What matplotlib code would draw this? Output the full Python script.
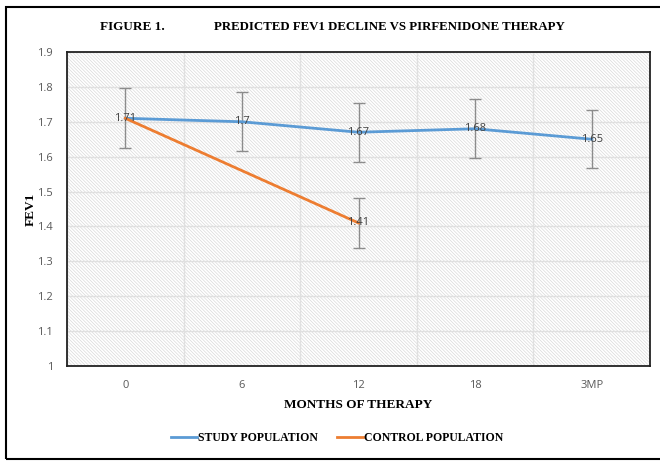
import numpy as np
import matplotlib
matplotlib.use("Agg")
import matplotlib.pyplot as plt
from matplotlib.patches import Rectangle

# chart data
months = ["0", "6", "12", "18", "3MP"]
study_fev1 = [1.71, 1.70, 1.67, 1.68, 1.65]
study_err = [0.086, 0.085, 0.084, 0.084, 0.083]
control_fev1 = [1.71, None, 1.41]
control_err = [0.0, 0.0, 0.071]
y_ticks = [1, 1.1, 1.2, 1.3, 1.4, 1.5, 1.6, 1.7, 1.8, 1.9]

plt.rcParams["hatch.linewidth"] = 0.5
plt.rcParams["hatch.color"] = "#d9d9d9"

serif = ["Liberation Serif", "DejaVu Serif"]
narrow = ["Liberation Sans Narrow", "Open Sans", "DejaVu Sans"]

fig = plt.figure(figsize=(6.6, 4.62), dpi=100)
ax = fig.add_axes([67 / 660, 1 - 366 / 462, 583 / 660, 314 / 462])

# outer frame around the whole figure
fig.patches.append(Rectangle((6 / 660, 1 - 459 / 462), 660, 452 / 462,
                             transform=fig.transFigure, fill=False,
                             edgecolor="black", linewidth=1.5))

# hatched plot background
ax.add_patch(Rectangle((0, 0), 1, 1, transform=ax.transAxes, facecolor="white",
                       hatch="\\" * 10, edgecolor="#d9d9d9", linewidth=0, zorder=0))

x = np.arange(len(months))
blue = "#5b9bd5"
orange = "#ed7d31"

ax.plot(x, study_fev1, color=blue, linewidth=2, zorder=3, label="STUDY POPULATION")
ax.errorbar(x, study_fev1, yerr=study_err, fmt="none", ecolor="#8c8c8c",
            elinewidth=1, capsize=4, capthick=1, zorder=2)

cx = [i for i, v in enumerate(control_fev1) if v is not None]
cy = [v for v in control_fev1 if v is not None]
ce = [control_err[i] for i in cx]
ax.plot(cx, cy, color=orange, linewidth=2, zorder=3, label="CONTROL POPULATION")
ax.errorbar(cx[-1:], cy[-1:], yerr=ce[-1:], fmt="none", ecolor="#8c8c8c",
            elinewidth=1, capsize=4, capthick=1, zorder=2)

# data labels
for xi, v in zip(x, study_fev1):
    ax.text(xi, v, f"{v:g}", ha="center", va="center", fontsize=8,
            color="#404040", family=narrow, zorder=4)
ax.text(cx[-1], cy[-1], f"{cy[-1]:g}", ha="center", va="center", fontsize=8,
        color="#404040", family=narrow, zorder=4)

ax.set_xlim(-0.5, len(months) - 0.5)
ax.set_ylim(1, 1.9)
ax.set_yticks(y_ticks)
ax.set_yticklabels([f"{t:g}" for t in y_ticks], family=narrow, fontsize=8, color="#595959")
ax.set_xticks(x)
ax.set_xticklabels(months, family=narrow, fontsize=8, color="#595959")
ax.set_xticks(np.arange(-0.5, len(months), 1), minor=True)
ax.tick_params(which="both", length=0, pad=10)
ax.tick_params(axis="y", pad=10)

ax.grid(axis="y", which="major", color="#e0e0e0", linewidth=1, zorder=1)
ax.grid(axis="x", which="minor", color="#e0e0e0", linewidth=1, zorder=1)
ax.set_axisbelow(True)
for s in ax.spines.values():
    s.set_linewidth(1.3)
    s.set_color("#222222")

ax.set_ylabel("FEV1", family=serif, fontweight="bold", fontsize=9.5)
ax.yaxis.set_label_coords(-0.052, 0.5)
ax.set_xlabel("MONTHS OF THERAPY", family=serif, fontweight="bold", fontsize=9.5, labelpad=6)

fig.text(100 / 660, 1 - 27 / 462, "FIGURE 1.", family=serif, fontweight="bold",
         fontsize=9.5, va="center", ha="left")
fig.text(214 / 660, 1 - 27 / 462, "PREDICTED FEV1 DECLINE VS PIRFENIDONE THERAPY",
         family=serif, fontweight="bold", fontsize=9.3, va="center", ha="left")

fig.legend(loc="center", bbox_to_anchor=(337 / 660, 1 - 438 / 462), ncol=2,
           frameon=False, prop={"family": serif, "weight": "bold", "size": 8.5},
           handlelength=2.2, handletextpad=0.1, columnspacing=1.6)

fig.savefig("out.png", dpi=100)
